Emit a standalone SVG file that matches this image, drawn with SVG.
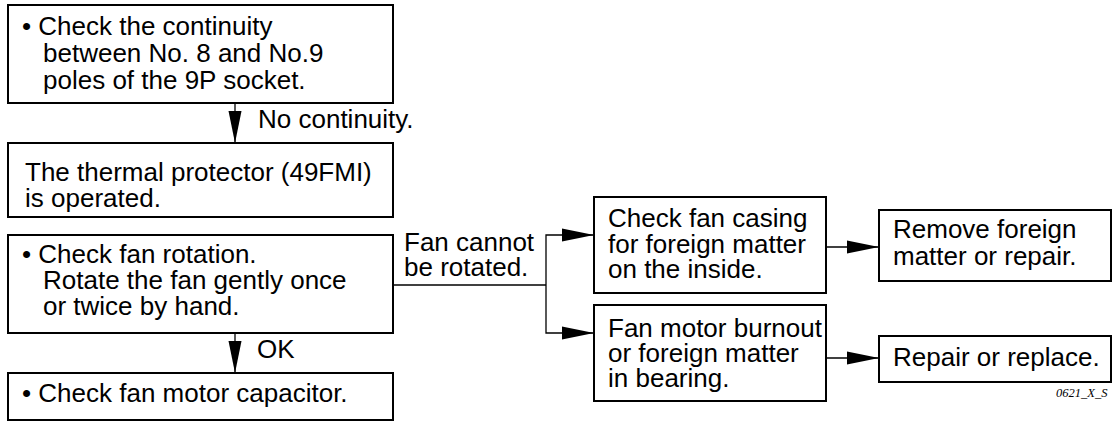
<svg xmlns="http://www.w3.org/2000/svg" width="1117" height="421" viewBox="0 0 1117 421">
<style>
.box{fill:#fff;stroke:#000;stroke-width:2}
.t{font-family:"Liberation Sans",Arial,Helvetica,sans-serif;font-size:26px;fill:#000}
.c{fill:none;stroke:#000;stroke-width:1.3}
.ah{fill:#000;stroke:none}
.id{font-family:"Liberation Serif","Times New Roman",serif;font-style:italic;font-size:12.5px;fill:#000}
</style>
<rect width="1117" height="421" fill="#fff"/>
<g id="connectors">
<line class="c" x1="235" y1="103" x2="235" y2="143"/>
<polygon class="ah" points="228.5,111 241.5,111 235,143"/>
<line class="c" x1="235" y1="333" x2="235" y2="373"/>
<polygon class="ah" points="228.5,341 241.5,341 235,373"/>
<polyline class="c" points="393,285 546,285"/>
<polyline class="c" points="594,235 546,235 546,333 594,333"/>
<polygon class="ah" points="562,228.5 562,241.5 594,235"/>
<polygon class="ah" points="562,326.5 562,339.5 594,333"/>
<line class="c" x1="826" y1="247" x2="879" y2="247"/>
<polygon class="ah" points="847,240.5 847,253.5 879,247"/>
<line class="c" x1="826" y1="358" x2="879" y2="358"/>
<polygon class="ah" points="847,351.5 847,364.5 879,358"/>
<text class="t" x="258" y="128">No continuity.</text>
<text class="t" x="257" y="358">OK</text>
<text class="t" x="404" y="251">Fan cannot</text>
<text class="t" x="404" y="276">be rotated.</text>
</g>
<g id="node1">
<rect class="box" x="8" y="5" width="385" height="98"/>
<text class="t" x="22" y="35">• Check the continuity</text>
<text class="t" x="43" y="62">between No. 8 and No.9</text>
<text class="t" x="43" y="89">poles of the 9P socket.</text>
</g>
<g id="node2">
<rect class="box" x="8" y="143" width="385" height="74"/>
<text class="t" x="25" y="181">The thermal protector (49FMI)</text>
<text class="t" x="25" y="207">is operated.</text>
</g>
<g id="node3">
<rect class="box" x="8" y="235" width="385" height="98"/>
<text class="t" x="22" y="263">• Check fan rotation.</text>
<text class="t" x="43" y="289">Rotate the fan gently once</text>
<text class="t" x="43" y="315">or twice by hand.</text>
</g>
<g id="node4">
<rect class="box" x="8" y="373" width="385" height="47"/>
<text class="t" x="22" y="402">• Check fan motor capacitor.</text>
</g>
<g id="node5">
<rect class="box" x="594" y="197" width="232" height="96"/>
<text class="t" x="608" y="227">Check fan casing</text>
<text class="t" x="608" y="253">for foreign matter</text>
<text class="t" x="608" y="278">on the inside.</text>
</g>
<g id="node6">
<rect class="box" x="594" y="305" width="232" height="96"/>
<text class="t" x="608" y="337">Fan motor burnout</text>
<text class="t" x="608" y="362">or foreign matter</text>
<text class="t" x="608" y="387">in bearing.</text>
</g>
<g id="node7">
<rect class="box" x="879" y="210" width="232" height="71"/>
<text class="t" x="893" y="238">Remove foreign</text>
<text class="t" x="893" y="265">matter or repair.</text>
</g>
<g id="node8">
<rect class="box" x="879" y="336" width="232" height="46"/>
<text class="t" x="893" y="366">Repair or replace.</text>
</g>
<text class="id" x="1056" y="397">0621_X_S</text>
</svg>
